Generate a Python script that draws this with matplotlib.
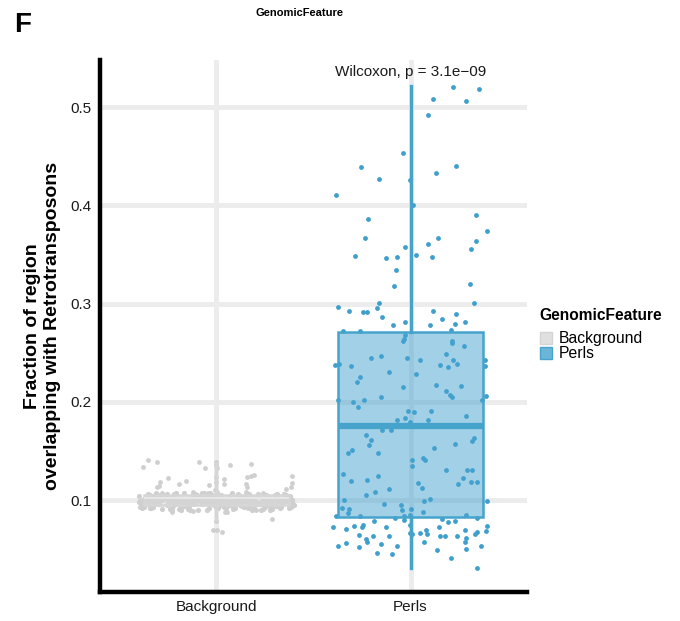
import numpy as np
import matplotlib
matplotlib.use("Agg")
import matplotlib.pyplot as plt
from matplotlib.patches import Patch
from matplotlib.colors import to_rgba

plt.rcParams['font.family'] = ['Liberation Sans', 'DejaVu Sans']

categories = ["Background", "Perls"]
legend_title = "GenomicFeature"
y_label = "Fraction of region\noverlapping with Retrotransposons"
y_ticks = [0.1, 0.2, 0.3, 0.4, 0.5]
test_label = "Wilcoxon, p = 3.1e\u221209"

# Box statistics
bg_stats = dict(q1=0.095, med=0.102, q3=0.105, whislo=0.080, whishi=0.138)
perls_stats = dict(q1=0.083, med=0.175, q3=0.271, whislo=0.031, whishi=0.522)

# Background: dense band values
bg_band = [
0.098,0.101,0.096,0.099,0.103,0.097,0.100,0.094,0.102,0.099,
0.095,0.098,0.104,0.100,0.097,0.093,0.101,0.099,0.096,0.102,
0.098,0.100,0.095,0.103,0.097,0.099,0.092,0.101,0.098,0.096,
0.100,0.104,0.097,0.099,0.094,0.102,0.098,0.101,0.095,0.100,
0.097,0.103,0.099,0.096,0.101,0.093,0.098,0.100,0.102,0.097,
0.099,0.095,0.101,0.098,0.105,0.096,0.100,0.099,0.094,0.102,
0.098,0.097,0.101,0.100,0.095,0.103,0.099,0.096,0.098,0.102,
0.100,0.094,0.097,0.101,0.099,0.096,0.104,0.098,0.100,0.095,
0.102,0.097,0.099,0.101,0.093,0.098,0.100,0.096,0.103,0.099,
0.097,0.101,0.095,0.100,0.098,0.102,0.096,0.099,0.094,0.101,
0.098,0.100,0.097,0.103,0.095,0.099,0.101,0.096,0.098,0.102,
0.100,0.097,0.094,0.099,0.101,0.096,0.105,0.098,0.100,0.095,
0.102,0.097,0.099,0.093,0.101,0.098,0.100,0.096,0.103,0.099,
0.097,0.101,0.095,0.098,0.100,0.102,0.096,0.099,0.094,0.101,
0.098,0.100,0.097,0.104,0.095,0.099,0.101,0.096,0.098,0.102,
0.092,0.097,0.100,0.099,0.103,0.096,0.098,0.101,0.095,0.100,
0.099,0.102,0.097,0.094,0.101,0.098,0.100,0.096,0.103,0.097,
0.099,0.101,0.095,0.098,0.100,0.102,0.096,0.099,0.093,0.101,
0.098,0.100,0.097,0.104,0.095,0.099,0.101,0.096,0.098,0.102,
0.100,0.097,0.094,0.099,0.101,0.096,0.103,0.098,0.100,0.095,
0.091,0.106,0.090,0.107,0.092,0.105,0.091,0.106,0.093,0.104,
0.090,0.107,0.092,0.106,0.091,0.105,0.093,0.107,0.090,0.106,
0.092,0.104,0.091,0.105,0.090,0.106,0.093,0.107,0.092,0.105,
0.091,0.106,0.090,0.104,0.092,0.107,0.091,0.105,0.093,0.106,
0.090,0.105,0.092,0.106,0.091,0.107,0.093,0.104,0.090,0.106,
0.092,0.105,0.091,0.106,0.093,0.107,0.090,0.104,0.092,0.105,
]

# Background: scattered points (jitter offset, value)
bg_out_jit = [-0.378,-0.352,-0.306,-0.092,-0.061,0.0,0.0,0.005,0.071,0.179,
              -0.250,-0.291,-0.306,-0.296,-0.194,-0.158,-0.036,0.0,0.0,0.041,
              0.041,0.158,0.179,0.194,0.153,0.158,0.388,0.388,0.383,0.357,
              -0.122,-0.046,-0.010,0.005,0.153,0.240,-0.281,0.056,0.046,-0.230,
              -0.122,0.204,0.286,-0.020,0.005,0.031,0.0]
bg_out_val = [0.134,0.141,0.139,0.139,0.133,0.139,0.136,0.133,0.136,0.137,
              0.122,0.118,0.113,0.114,0.116,0.119,0.115,0.123,0.118,0.121,
              0.116,0.123,0.125,0.126,0.116,0.113,0.125,0.117,0.113,0.111,
              0.108,0.107,0.110,0.108,0.108,0.107,0.107,0.088,0.088,0.088,
              0.089,0.090,0.081,0.070,0.070,0.067,0.079]

# Perls points (jitter offset, value)
perls_jit = [0.219,0.352,0.117,0.286,0.092,-0.041,-0.255,0.235,0.133,-0.163,
             -0.005,-0.383,0.015,-0.219,0.337,0.393,-0.235,0.143,0.337,0.092,
             -0.031,-0.286,-0.128,-0.071,0.026,0.112,0.311,-0.077,-0.087,0.306,
             -0.372,-0.163,-0.173,0.327,-0.316,-0.245,-0.224,0.117,0.235,-0.148,
             0.163,0.281,-0.031,-0.092,0.102,0.230,-0.347,-0.260,0.209,-0.031,
             -0.036,-0.041,0.214,0.214,0.276,-0.388,-0.367,-0.306,-0.204,-0.153,
             -0.020,0.051,0.184,0.219,0.240,0.153,0.194,0.383,0.383,-0.112,
             0.026,-0.260,-0.276,-0.041,0.133,0.184,0.260,0.204,0.214,0.388,
             -0.153,-0.240,-0.372,-0.296,0.367,-0.270,-0.015,0.020,0.107,0.286,
             -0.071,-0.031,0.092,-0.005,-0.148,-0.102,-0.230,-0.204,-0.214,0.327,
             0.316,0.230,0.122,-0.301,-0.321,-0.168,0.066,0.077,0.005,0.005,
             0.184,0.291,0.316,-0.347,-0.168,0.270,-0.224,-0.306,0.311,0.342,
             0.245,0.036,0.061,-0.112,-0.184,-0.230,0.102,0.071,0.393,-0.342,
             -0.138,-0.051,-0.352,-0.316,-0.321,-0.046,0.000,0.066,0.286,-0.383,
             -0.260,-0.036,-0.005,-0.082,-0.036,0.342,0.163,0.194,0.230,-0.189,
             -0.398,-0.332,-0.291,-0.250,-0.245,-0.128,-0.005,0.082,0.148,0.281,
             0.393,0.388,-0.005,0.005,0.051,0.087,-0.265,-0.194,-0.112,0.153,
             0.179,0.240,0.332,0.342,-0.230,-0.224,0.286,0.281,0.071,-0.332,
             -0.153,-0.372,-0.265,-0.071,0.362,0.286,0.138,-0.173,-0.097,0.209,
             0.342]
perls_val = [0.521,0.518,0.508,0.506,0.492,0.453,0.439,0.440,0.433,0.427,
             0.426,0.411,0.400,0.386,0.390,0.374,0.367,0.367,0.364,0.361,
             0.358,0.348,0.346,0.347,0.349,0.347,0.356,0.334,0.318,0.320,
             0.297,0.301,0.296,0.301,0.292,0.291,0.291,0.292,0.289,0.286,
             0.284,0.281,0.281,0.278,0.278,0.279,0.272,0.272,0.273,0.268,
             0.264,0.262,0.262,0.260,0.257,0.237,0.239,0.236,0.245,0.247,
             0.245,0.243,0.249,0.243,0.239,0.237,0.235,0.243,0.236,0.230,
             0.228,0.225,0.220,0.215,0.217,0.211,0.216,0.207,0.205,0.206,
             0.205,0.202,0.202,0.200,0.202,0.195,0.191,0.190,0.191,0.186,
             0.182,0.184,0.181,0.179,0.171,0.171,0.166,0.161,0.156,0.163,
             0.160,0.157,0.153,0.151,0.148,0.148,0.143,0.141,0.141,0.135,
             0.131,0.131,0.131,0.127,0.125,0.122,0.120,0.119,0.118,0.118,
             0.116,0.117,0.112,0.111,0.108,0.105,0.101,0.099,0.099,0.100,
             0.096,0.095,0.092,0.091,0.087,0.090,0.091,0.088,0.085,0.084,
             0.084,0.084,0.085,0.082,0.080,0.082,0.081,0.078,0.079,0.079,
             0.073,0.071,0.074,0.073,0.075,0.073,0.075,0.070,0.073,0.070,
             0.074,0.068,0.066,0.065,0.066,0.065,0.064,0.063,0.063,0.063,
             0.063,0.063,0.065,0.067,0.060,0.057,0.061,0.057,0.057,0.056,
             0.055,0.053,0.052,0.053,0.053,0.050,0.049,0.046,0.045,0.041,
             0.031]

bg_color = "#cfcfcf"
bg_fill = "#d9d9d9"
perls_color = "#3f9fcc"
perls_fill = "#46a3d0"
perls_edge = "#45a3cc"

fig = plt.figure(figsize=(6.8, 6.21), dpi=100)
ax = fig.add_axes([100/680, 1-592/621, 427/680, 532/621])

xpos = np.arange(1, len(categories) + 1)

# gridlines
for yt in y_ticks:
    ax.axhline(yt, color="#ececec", lw=3.5, zorder=0)
for xp in xpos:
    ax.axvline(xp, color="#ececec", lw=3.5, zorder=0)

# background jitter offsets (deterministic spread across jitter width)
n_band = len(bg_band)
band_jit = ((np.arange(n_band) * 0.6180339887) % 1.0 - 0.5) * 0.8
ax.scatter(xpos[0] + band_jit, bg_band, s=14, color=bg_color, lw=0, zorder=2)
ax.scatter(xpos[0] + np.array(bg_out_jit), bg_out_val, s=12, color=bg_color, lw=0, zorder=2)
ax.scatter(xpos[1] + np.array(perls_jit), perls_val, s=12, color=perls_color, lw=0, zorder=2)

# boxplots drawn over the points
def draw_box(stats, pos, edge, fill, alpha, med_color, med_lw):
    st = dict(stats)
    st["fliers"] = []
    ax.bxp([st], positions=[pos], widths=0.75, patch_artist=True,
           showfliers=False, showcaps=False,
           boxprops=dict(facecolor=to_rgba(fill, alpha), edgecolor=edge, lw=1.8),
           whiskerprops=dict(color=edge, lw=2.4),
           medianprops=dict(color=med_color, lw=med_lw, solid_capstyle='butt'),
           zorder=3)

draw_box(bg_stats, xpos[0], "#d6d6d6", bg_fill, 0.5, "#e6e6e6", 1.5)
draw_box(perls_stats, xpos[1], perls_edge, perls_fill, 0.5, perls_edge, 4.5)

ax.set_xlim(0.4, 2.6)
ax.set_ylim(0.0064, 0.548)
ax.set_xticks(xpos)
ax.set_xticklabels(categories, fontsize=11, color="#1a1a1a")
ax.set_yticks(y_ticks)
ax.set_yticklabels([f"{v:.1f}" for v in y_ticks], fontsize=11, color="#1a1a1a")
ax.tick_params(length=0, pad=6)

for s in ["top", "right"]:
    ax.spines[s].set_visible(False)
for s in ["left", "bottom"]:
    ax.spines[s].set_linewidth(3.2)
    ax.spines[s].set_color("black")

ax.set_ylabel(y_label, fontsize=14, fontweight="bold", labelpad=7, linespacing=1.25)

ax.text(xpos[1], 0.536, test_label, ha="center", va="center", fontsize=11, color="#1a1a1a")

handles = [Patch(facecolor=to_rgba(bg_fill, 0.8), edgecolor="#d4d4d4"),
           Patch(facecolor=to_rgba(perls_fill, 0.8), edgecolor=perls_edge)]
fig.text(539/680, 1-316/621, legend_title, fontsize=11.2, fontweight="bold",
         va="center", ha="left")
fig.legend(handles, categories, loc="upper left",
           bbox_to_anchor=(540/680, 1-331/621), frameon=False,
           fontsize=11.3, handlelength=0.75, handleheight=0.8, handletextpad=0.45,
           labelspacing=0.0, borderpad=0, borderaxespad=0)

fig.text(14/680, 1-25/621, "F", fontsize=20, fontweight="bold", va="center", ha="left")
fig.text(300/680, 1-13/621, legend_title, fontsize=8, fontweight="bold", va="center", ha="center")

fig.savefig("out.png", dpi=100)
